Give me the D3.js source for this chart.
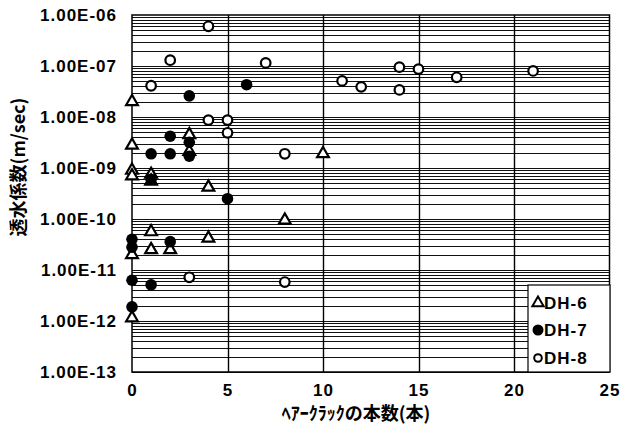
<!DOCTYPE html>
<html>
<head>
<meta charset="utf-8">
<script src="https://cdn.jsdelivr.net/npm/d3@7"></script>
<style>
	body { margin: 0; background: #fff; }
	text { font-family: "Liberation Sans", Arial, sans-serif; font-weight: bold; fill: #000; }
	.jp { font-family: "Noto Sans CJK JP", sans-serif; font-weight: bold; }
</style>
</head>
<body>
<svg id="chart" width="622" height="437"></svg>
<script>
// hair crack count (x) vs permeability (y)
var dh6X = [0, 0, 0, 0, 1, 1, 3, 3, 4, 10, 1, 4, 8, 1, 2, 0, 0];
var dh6Y = [2.0e-8, 2.8e-9, 9e-10, 7e-10, 7.5e-10, 5.5e-10, 4.5e-9, 2.1e-9, 4.2e-10, 1.9e-9, 5.6e-11, 4.2e-11, 9.5e-11, 2.5e-11, 2.5e-11, 2.0e-11, 1.15e-12];

var dh7X = [3, 6, 2, 3, 1, 2, 3, 5, 1, 2, 0, 0, 0, 1, 0];
var dh7Y = [2.6e-8, 4.3e-8, 4.2e-9, 3.2e-9, 1.9e-9, 1.9e-9, 1.7e-9, 2.5e-10, 6e-10, 3.6e-11, 4e-11, 2.8e-11, 6.3e-12, 5.1e-12, 1.9e-12];

var dh8X = [4, 2, 1, 4, 5, 5, 14, 15, 11, 12, 14, 17, 21, 7, 8, 3, 8];
var dh8Y = [6.0e-7, 1.3e-7, 4.1e-8, 8.7e-9, 8.7e-9, 4.9e-9, 9.5e-8, 8.7e-8, 5.1e-8, 3.9e-8, 3.4e-8, 6.0e-8, 8.0e-8, 1.15e-7, 1.9e-9, 7.2e-12, 5.8e-12];

var xTicks = [0, 5, 10, 15, 20, 25];
var yTicks = [1e-6, 1e-7, 1e-8, 1e-9, 1e-10, 1e-11, 1e-12, 1e-13];
var seriesNames = ["DH-6", "DH-7", "DH-8"];

var svg = d3.select("#chart"),
	plotL = 132, plotR = 609.5, plotT = 15, plotB = 372;

var x = d3.scaleLinear().domain([0, 25]).range([plotL, plotR]);
var y = d3.scaleLog().domain([1e-13, 1e-6]).range([plotB, plotT]);

// minor log grid lines
var minor = [];
for (var e = -13; e < -6; e++) {
	for (var m = 1; m < 10; m++) minor.push(m * Math.pow(10, e));
}
svg.append("g").selectAll("line")
	.data(minor)
	.enter().append("line")
	.attr("x1", plotL).attr("x2", plotR)
	.attr("y1", function (d) { return Math.round(y(d)) + 0.5; })
	.attr("y2", function (d) { return Math.round(y(d)) + 0.5; })
	.attr("stroke", "#111")
	.attr("stroke-width", 1);

// vertical grid lines
svg.append("g").selectAll("line")
	.data(xTicks.slice(1, -1))
	.enter().append("line")
	.attr("x1", function (d) { return Math.round(x(d)) + 0.5; })
	.attr("x2", function (d) { return Math.round(x(d)) + 0.5; })
	.attr("y1", plotT).attr("y2", plotB)
	.attr("stroke", "#000")
	.attr("stroke-width", 1.4);

// frame
svg.append("rect")
	.attr("x", plotL).attr("y", plotT)
	.attr("width", plotR - plotL).attr("height", plotB - plotT)
	.attr("fill", "none").attr("stroke", "#000").attr("stroke-width", 1.5);

// axes
var yAxis = d3.axisLeft(y)
	.tickValues(yTicks)
	.tickSize(0).tickPadding(15)
	.tickFormat(function (d) {
		var p = Math.round(-Math.log10(d));
		return "1.00E-" + (p < 10 ? "0" + p : p);
	});
var gy = svg.append("g").attr("transform", "translate(" + plotL + ",0)").call(yAxis);
gy.select(".domain").remove();
gy.selectAll("text")
	.style("font-size", "17px")
	.style("letter-spacing", "1px")
	.attr("dy", "0.35em");

var xAxis = d3.axisBottom(x).tickValues(xTicks).tickSize(0).tickPadding(12);
var gx = svg.append("g").attr("transform", "translate(0," + plotB + ")").call(xAxis);
gx.select(".domain").remove();
gx.selectAll("text").style("font-size", "17px").style("letter-spacing", "1px");

// axis titles
svg.append("text")
	.attr("class", "jp")
	.attr("x", 356).attr("y", 420)
	.attr("text-anchor", "middle")
	.style("font-size", "18px")
	.text("ﾍｱｰｸﾗｯｸの本数(本)");

svg.append("text")
	.attr("class", "jp")
	.attr("transform", "translate(25,167) rotate(-90)")
	.attr("text-anchor", "middle")
	.style("font-size", "18px")
	.text("透水係数(m/sec)");

// markers
var tri = d3.symbol().type(d3.symbolTriangle).size(60);

function pts(xs, ys) {
	return xs.map(function (v, i) { return { x: v, y: ys[i] }; });
}

svg.append("g").selectAll("path")
	.data(pts(dh6X, dh6Y))
	.enter().append("path")
	.attr("d", tri)
	.attr("transform", function (d) { return "translate(" + x(d.x) + "," + y(d.y) + ")"; })
	.attr("fill", "#fff").attr("stroke", "#000").attr("stroke-width", 2.2);

svg.append("g").selectAll("circle")
	.data(pts(dh7X, dh7Y))
	.enter().append("circle")
	.attr("cx", function (d) { return x(d.x); })
	.attr("cy", function (d) { return y(d.y); })
	.attr("r", 5.8)
	.attr("fill", "#000");

svg.append("g").selectAll("circle")
	.data(pts(dh8X, dh8Y))
	.enter().append("circle")
	.attr("cx", function (d) { return x(d.x); })
	.attr("cy", function (d) { return y(d.y); })
	.attr("r", 4.8)
	.attr("fill", "#fff").attr("stroke", "#000").attr("stroke-width", 2.2);

// legend
var lg = svg.append("g").attr("transform", "translate(528,285)");
lg.append("rect")
	.attr("width", 82).attr("height", 87)
	.attr("fill", "#fff").attr("stroke", "#000").attr("stroke-width", 1.2);

var rows = [18, 45, 73];
seriesNames.forEach(function (name, i) {
	var row = lg.append("g").attr("transform", "translate(10," + rows[i] + ")");
	if (i === 0) {
		row.append("path").attr("d", d3.symbol().type(d3.symbolTriangle).size(55))
			.attr("fill", "#fff").attr("stroke", "#000").attr("stroke-width", 2);
	} else if (i === 1) {
		row.append("circle").attr("r", 5.5).attr("fill", "#000");
	} else {
		row.append("circle").attr("r", 3.8).attr("fill", "#fff")
			.attr("stroke", "#000").attr("stroke-width", 2);
	}
	row.append("text")
		.attr("x", 6).attr("dy", "0.36em")
		.style("font-size", "17px")
		.style("letter-spacing", "1px")
		.text(name);
});
</script>
</body>
</html>
